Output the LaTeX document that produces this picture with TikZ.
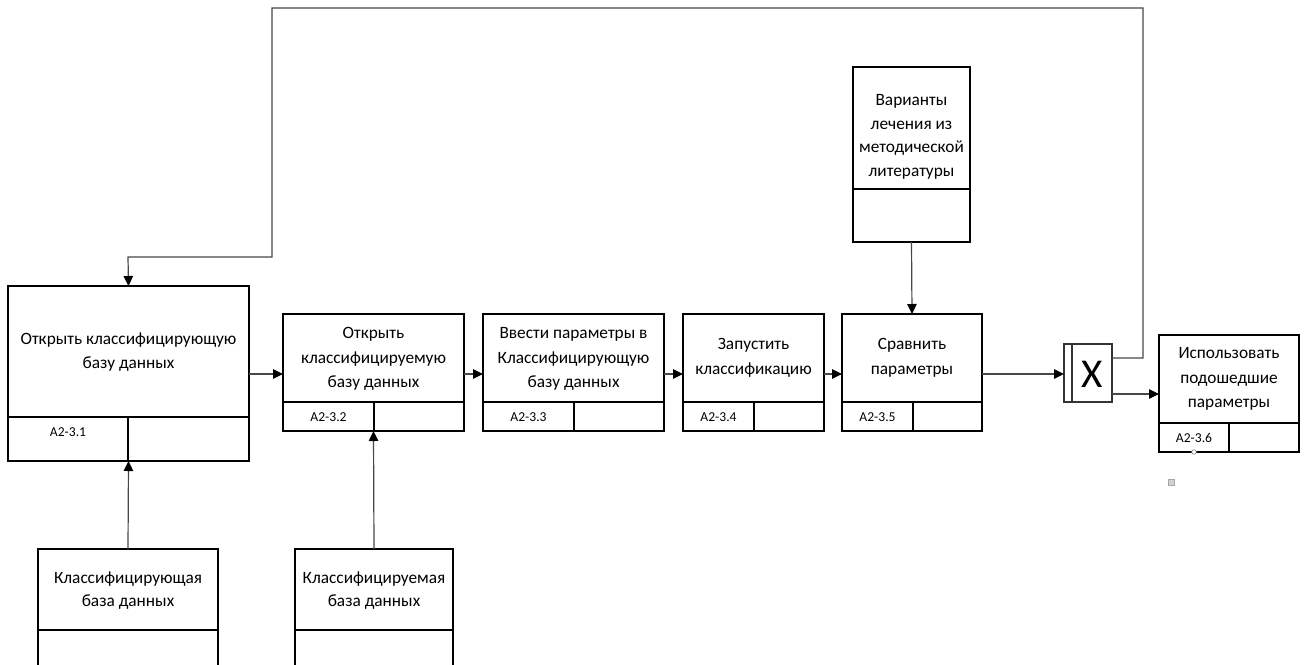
\documentclass[tikz,border=0pt]{standalone}
\usepackage{fontspec}
\setmainfont{Carlito}
\usetikzlibrary{arrows.meta}

\begin{document}
\begin{tikzpicture}[x=1pt,y=-1pt,
  box/.style={draw=black, line width=1.7pt, rectangle, inner sep=0pt, outer sep=0pt},
  rule/.style={draw=black, line width=1.7pt},
  title/.style={font=\fontsize{17.3}{24.5}\selectfont, align=center, inner sep=0pt},
  code/.style={font=\fontsize{13.6}{15}\selectfont, inner sep=0pt},
  link/.style={draw=black!72, line width=1.2pt},
  arr/.style={link, -{Triangle[length=10pt,width=9.5pt,color=black]}},
]
\useasboundingbox (0,0) rectangle (1306,664);
\clip (0,0) rectangle (1306,664);

\coordinate (flow) at (0,374);

% ---- function blocks ----
\node[box, minimum width=241, minimum height=175] (b1) at (128.5,373.5) {};
\draw[rule] (8,417) -- (249,417) (128,417) -- (128,461);
\node[title] (t1) at (128.5,352) {Открыть классифицирующую\\базу данных};
\node[code] at (68,432) {A2-3.1};

\node[box, minimum width=181, minimum height=117] (b2) at (373.5,372.5) {};
\draw[rule] (283,402) -- (464,402) (374,402) -- (374,431);
\node[title] (t2) at (373.5,359) {Открыть\\классифицируемую\\базу данных};
\node[code] at (328.5,417) {A2-3.2};

\node[box, minimum width=181, minimum height=117] (b3) at (573.5,372.5) {};
\draw[rule] (483,402) -- (664,402) (574,402) -- (574,431);
\node[title] (t3) at (573.5,359) {Ввести параметры в\\Классифицирующую\\базу данных};
\node[code] at (528.5,417) {A2-3.3};

\node[box, minimum width=141, minimum height=117] (b4) at (753.5,372.5) {};
\draw[rule] (683,402) -- (824,402) (754,402) -- (754,431);
\node[title] (t4) at (753.5,358) {Запустить\\классификацию};
\node[code] at (718.5,417) {A2-3.4};

\node[box, minimum width=140, minimum height=117] (b5) at (912,372.5) {};
\draw[rule] (842,402) -- (982,402) (913,402) -- (913,431);
\node[title] (t5) at (912,358) {Сравнить\\параметры};
\node[code] at (877.5,417) {A2-3.5};

\node[box, minimum width=140, minimum height=117] (b6) at (1229,393.5) {};
\draw[rule] (1159,423) -- (1299,423) (1229,423) -- (1229,452);
\node[title] (t6) at (1229,379) {Использовать\\подошедшие\\параметры};
\node[code] at (1194,438) {A2-3.6};

% ---- reference blocks ----
\node[box, minimum width=117, minimum height=175] (c1) at (911.5,154.5) {};
\draw[rule] (853,189) -- (970,189);
\node[title, font=\fontsize{17.3}{23.5}\selectfont] at (911.5,137) {Варианты\\лечения из\\методической\\литературы};

\node[box, minimum width=180, minimum height=150] (m1) at (128,624) {};
\draw[rule] (38,630) -- (218,630);
\node[title, font=\fontsize{17.3}{23}\selectfont] at (128,591) {Классифицирующая\\база данных};

\node[box, minimum width=158, minimum height=150] (m2) at (374,624) {};
\draw[rule] (295,630) -- (453,630);
\node[title, font=\fontsize{17.3}{23}\selectfont] at (374,591) {Классифицируемая\\база данных};

% ---- exclusive OR junction ----
\node[draw=black!80, line width=1.1pt, rectangle, inner sep=0pt, outer sep=0pt,
      minimum width=48, minimum height=58] (jx) at (1088,373) {};
\draw[draw=black!80, line width=1.1pt] (1072,344) -- (1072,402);
\node[font=\fontsize{41}{41}\selectfont, inner sep=0pt] at (1092,374) {X};

% ---- connectors ----
\draw[arr] (b1.east |- flow) -- (b2.west |- flow);
\draw[arr] (b2.east |- flow) -- (b3.west |- flow);
\draw[arr] (b3.east |- flow) -- (b4.west |- flow);
\draw[arr] (b4.east |- flow) -- (b5.west |- flow);
\draw[arr] (b5.east |- flow) -- (jx.west |- flow);

\coordinate (xo1) at (1112,358);
\coordinate (xo2) at (1112,394);
\draw[arr] (xo2) -- (b6.west |- xo2);
\draw[arr] (xo1) -- (1143,358) -- (1143,8) -- (272,8) -- (272,257) -- (128,257) -- (b1.north);

\draw[arr] (c1.south) -- (b5.north);
\draw[arr] (m1.north) -- (b1.south);
\draw[arr] (m2.north) -- (b2.south);

% ---- small handles ----
\draw[draw=black!50, fill=white, line width=0.6pt] (1194,452) circle (2.3);
\draw[draw=black!35, fill=black!18, line width=0.5pt] (1168,479) rectangle (1174,485);
\end{tikzpicture}
\end{document}
